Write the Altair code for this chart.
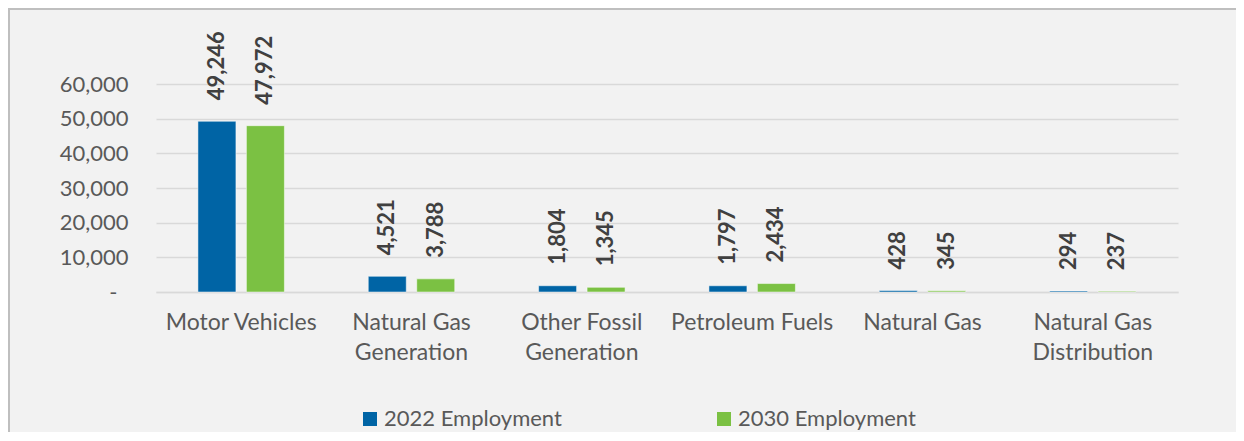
import altair as alt
import pandas as pd

categories = ["Motor Vehicles", "Natural Gas\nGeneration", "Other Fossil\nGeneration",
              "Petroleum Fuels", "Natural Gas", "Natural Gas\nDistribution"]
series = ["2022 Employment", "2030 Employment"]
values_2022 = [49246, 4521, 1804, 1797, 428, 294]
values_2030 = [47972, 3788, 1345, 2434, 345, 237]
y_ticks = [0, 10000, 20000, 30000, 40000, 50000, 60000]
colors = ["#0064A5", "#7BC143"]

rows = []
for c, a, b in zip(categories, values_2022, values_2030):
    rows.append({"category": c, "series": series[0], "value": a})
    rows.append({"category": c, "series": series[1], "value": b})
df = pd.DataFrame(rows)

FONT = "Lato"

x_enc = alt.X("category:N", sort=categories,
              scale=alt.Scale(paddingInner=0, paddingOuter=0),
              axis=alt.Axis(title=None, labelAngle=0, labelFontSize=23, labelColor="#595959",
                            labelFont=FONT, labelLineHeight=30, labelPadding=19,
                            labelExpr="split(datum.label, '\\n')", labelLimit=0,
                            ticks=False, domainColor="#d9d9d9", domainWidth=1.5, grid=False))
xo_enc = alt.XOffset("series:N", sort=series,
                     scale=alt.Scale(paddingInner=0.216, paddingOuter=0.865))
y_enc = alt.Y("value:Q", scale=alt.Scale(domain=[0, 60000], nice=False),
              axis=alt.Axis(title=None, values=y_ticks, labelFontSize=22, labelColor="#595959",
                            labelFont=FONT,
                            labelPadding={"condition": {"test": "datum.value == 0", "value": 39},
                                          "value": 28},
                            ticks=False, tickSize=0, domain=False,
                            gridColor="#d9d9d9", gridWidth=1.5,
                            labelExpr="datum.value == 0 ? '-' : format(datum.value, ',')"))

base = alt.Chart(df)

bars = base.mark_bar(stroke="white", strokeWidth=0.5).encode(
    x=x_enc, xOffset=xo_enc, y=y_enc,
    color=alt.Color("series:N", sort=series,
                    scale=alt.Scale(domain=series, range=colors),
                    legend=alt.Legend(title=None, orient="none", legendX=203, legendY=324,
                                      direction="horizontal", symbolType="square",
                                      symbolSize=196, symbolStrokeWidth=0,
                                      labelFontSize=22, labelColor="#595959", labelFont=FONT,
                                      labelLimit=0, columnPadding=151, labelOffset=3)),
)

labels = base.mark_text(angle=270, align="left", baseline="middle", dx=21,
                        fontSize=22, fontWeight="bold", font=FONT, color="#404040").encode(
    x=x_enc, xOffset=xo_enc, y=y_enc,
    text=alt.Text("value:Q", format=","),
)

frame_df = pd.DataFrame({"k": [0]})
left_border = alt.Chart(frame_df).mark_rule(color="#bfbfbf", strokeWidth=2).encode(
    x=alt.value(-147), y=alt.value(-76), y2=alt.value(348))
top_border = alt.Chart(frame_df).mark_rule(color="#bfbfbf", strokeWidth=2).encode(
    x=alt.value(-148), x2=alt.value(1080), y=alt.value(-75))

chart = alt.layer(bars, labels, left_border, top_border).properties(
    width=1022, height=208,
    autosize=alt.AutoSizeParams(type="none"),
    padding={"left": 148, "top": 76, "right": 58, "bottom": 140},
    background="#f2f2f2",
).configure_view(stroke=None)

chart.save("out.html", embed_options={"renderer": "svg", "actions": False})
